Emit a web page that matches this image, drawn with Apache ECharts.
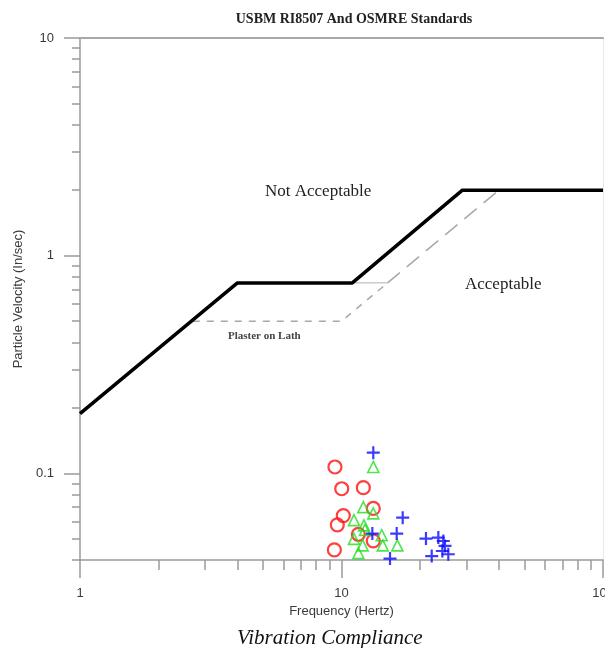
<!DOCTYPE html>
<html><head><meta charset="utf-8">
<script src="https://cdn.jsdelivr.net/npm/echarts@6/dist/echarts.min.js"></script>
<style>html,body{margin:0;padding:0;background:#fff}#c{width:605px;height:648px}</style>
</head><body><div id="c"></div>
<script>
// ---- tick values ----
const xMajorTicks = [1, 10, 100];
const xMinorTicks = [2, 3, 4, 5, 6, 7, 8, 9, 20, 30, 40, 50, 60, 70, 80, 90];
const yMajorTicks = [0.1, 1, 10];
const yMinorTicks = [0.04, 0.05, 0.06, 0.07, 0.08, 0.09, 0.2, 0.3, 0.4, 0.5, 0.6, 0.7, 0.8, 0.9, 2, 3, 4, 5, 6, 7, 8, 9];

// ---- limit curves [Hz, in/sec] ----
const osmreLimit = [[1, 0.188], [4, 0.75], [11, 0.75], [29, 2], [100, 2]];
const plasterLower = [[2.7, 0.5], [10, 0.5], [15, 0.75]];
const plasterUpper = [[15, 0.75], [40, 2]];
const drywallFlat = [[11, 0.75], [15, 0.75]];

// ---- measured points [Hz, in/sec] ----
const redCircles = [[9.44, 0.107], [10.02, 0.085], [12.12, 0.086], [13.23, 0.069], [10.16, 0.064], [9.64, 0.058], [11.6, 0.0525], [13.23, 0.049], [9.39, 0.0445]];
const greenTriangles = [[13.23, 0.107], [12.12, 0.070], [13.23, 0.0655], [11.16, 0.061], [12.19, 0.0577], [12.3, 0.055], [11.16, 0.050], [12.05, 0.0467], [14.25, 0.052], [14.38, 0.0467], [16.35, 0.0467], [11.6, 0.043]];
const bluePluses = [[13.23, 0.1245], [17.14, 0.0626], [13.12, 0.0529], [16.26, 0.0529], [15.33, 0.0406], [21.04, 0.0502], [23.46, 0.0507], [24.51, 0.0489], [24.88, 0.0464], [22.13, 0.0417], [25.61, 0.0425], [24.3, 0.044]];

const axisGray = '#9a9a9a';
const labelFont = { fontFamily: 'Liberation Sans', fontSize: 13, color: '#3a3a3a' };
const serif = 'Liberation Serif';

const chart = echarts.init(document.getElementById('c'), null, { renderer: 'canvas' });
const base = { type: 'log', logBase: 10, splitLine: { show: false } };
chart.setOption({
  animation: false,
  backgroundColor: '#fff',
  title: {
    text: 'USBM RI8507 And OSMRE Standards',
    left: 349, top: 7, textAlign: 'center',
    textStyle: { fontFamily: serif, fontWeight: 'bold', fontSize: 14, color: '#222' }
  },
  grid: { left: 80, right: 2, top: 38, bottom: 88, containLabel: false, outerBoundsMode: 'none' },
  xAxis: [
    Object.assign({}, base, {
      min: 1, max: 100, position: 'bottom',
      name: 'Frequency (Hertz)', nameLocation: 'middle', nameGap: 44,
      nameTextStyle: labelFont,
      axisLine: { show: true, lineStyle: { color: axisGray, width: 1.5 } },
      axisTick: { show: true, length: 18, customValues: xMajorTicks, lineStyle: { color: axisGray, width: 1.5 } },
      axisLabel: Object.assign({ margin: 27, customValues: xMajorTicks, hideOverlap: false }, labelFont)
    }),
    Object.assign({}, base, {
      min: 1, max: 100, position: 'bottom',
      axisLine: { show: false },
      axisTick: { show: true, length: 10, customValues: xMinorTicks, lineStyle: { color: axisGray, width: 1.5 } },
      axisLabel: { show: false }
    }),
    Object.assign({}, base, {
      min: 1, max: 100, position: 'top',
      axisLine: { show: true, lineStyle: { color: '#a8a8a8', width: 2 } },
      axisTick: { show: false }, axisLabel: { show: false }
    })
  ],
  yAxis: [
    Object.assign({}, base, {
      min: 0.04, max: 10, position: 'left',
      name: 'Particle Velocity (In/sec)', nameLocation: 'middle', nameGap: 54,
      nameTextStyle: labelFont,
      axisLine: { show: true, lineStyle: { color: axisGray, width: 1.5 } },
      axisTick: { show: true, length: 16, customValues: yMajorTicks, lineStyle: { color: axisGray, width: 1.5 } },
      axisLabel: Object.assign({ margin: 26, customValues: yMajorTicks }, labelFont)
    }),
    Object.assign({}, base, {
      min: 0.04, max: 10, position: 'left',
      axisLine: { show: false },
      axisTick: { show: true, length: 8, customValues: yMinorTicks, lineStyle: { color: axisGray, width: 1.5 } },
      axisLabel: { show: false }
    }),
    Object.assign({}, base, {
      min: 0.04, max: 10, position: 'right',
      axisLine: { show: true, lineStyle: { color: '#e8e8e8', width: 1 } },
      axisTick: { show: false }, axisLabel: { show: false }
    })
  ],
  graphic: [
    { type: 'text', left: 265, top: 183, style: { text: 'Not Acceptable', font: '17px "Liberation Serif"', fill: '#222' } },
    { type: 'text', left: 465, top: 276, style: { text: 'Acceptable', font: '17px "Liberation Serif"', fill: '#222' } },
    { type: 'text', left: 228, top: 331, style: { text: 'Plaster on Lath', font: 'bold 11px "Liberation Serif"', fill: '#444' } },
    { type: 'text', left: 237, top: 628, style: { text: 'Vibration Compliance', font: 'italic 21px "Liberation Serif"', fill: '#111' } }
  ],
  series: [
    { type: 'line', data: drywallFlat, symbol: 'none', lineStyle: { color: '#b0b0b0', width: 1 }, z: 2 },
    { type: 'line', data: plasterLower, symbol: 'none', lineStyle: { color: '#a8a8a8', width: 1.5, type: [7, 7] }, z: 2 },
    { type: 'line', data: plasterUpper, symbol: 'none', lineStyle: { color: '#a8a8a8', width: 1.5, type: [16, 9] }, z: 2 },
    { type: 'line', data: osmreLimit, symbol: 'none', lineStyle: { color: '#000', width: 3.5 }, z: 3 },
    { type: 'scatter', data: redCircles, symbol: 'circle', symbolSize: 13,
      itemStyle: { color: 'rgba(0,0,0,0)', borderColor: '#ff1010', borderWidth: 2.2 }, z: 4 },
    { type: 'scatter', data: greenTriangles, symbol: 'triangle', symbolSize: 11,
      itemStyle: { color: 'rgba(0,0,0,0)', borderColor: '#22dd22', borderWidth: 1.6 }, z: 5 },
    { type: 'scatter', data: bluePluses, symbol: 'path://M0,5L10,5M5,0L5,10', symbolSize: 13,
      itemStyle: { color: 'rgba(0,0,0,0)', borderColor: '#0a0aff', borderWidth: 2.2 }, z: 6 }
  ]
});
</script>
</body></html>
